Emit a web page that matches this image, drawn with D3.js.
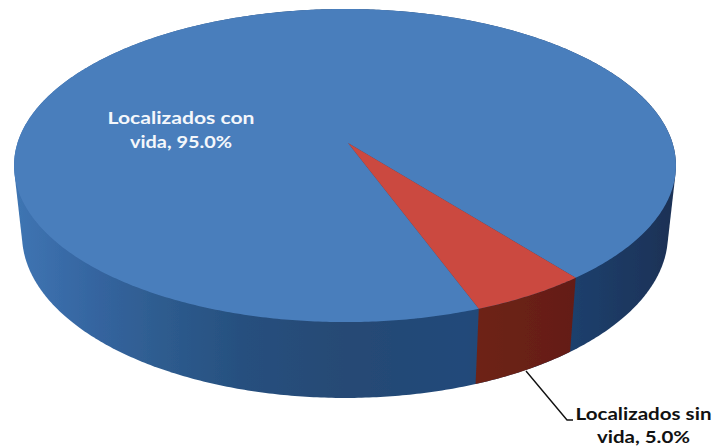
<!DOCTYPE html>
<html>
<head>
<meta charset="utf-8">
<script src="https://cdn.jsdelivr.net/npm/d3@7"></script>
<style>
html, body { margin: 0; padding: 0; background: #fff; }
svg { display: block; }
text { font-family: "Lato", "Noto Sans", sans-serif; font-weight: 700; }
</style>
</head>
<body>
<div id="chart"></div>
<script>
// datos
var categories = ["Localizados con vida", "Localizados sin vida"];
var values = [95.0, 5.0];
var topColors = ["#4a7ebc", "#cb4a3f"];
var labelColors = ["#f4f7fb", "#111111"];

var width = 712, height = 446;

// disco superior e inferior, con perspectiva (k)
var topDisc = { ax: 345, ay: 143, A: 327.5, B: 153.3, k: 0.144 };
var bottomDisc = { ax: 345, ay: 211.5, A: 319.6, B: 159.6, k: 0.144 };
var apexShift = 3;

var svg = d3.select("#chart").append("svg")
	.attr("width", width)
	.attr("height", height);

var defs = svg.append("defs");
defs.append("filter").attr("id", "soft")
	.append("feGaussianBlur").attr("stdDeviation", 0.6);

// gradiente lateral azul
var sideBlue = defs.append("linearGradient")
	.attr("id", "sideBlue")
	.attr("gradientUnits", "userSpaceOnUse")
	.attr("x1", 14).attr("x2", 676).attr("y1", 0).attr("y2", 0);
[[0, "#3f75b3"], [0.12, "#3565a0"], [0.22, "#2e5c8f"], [0.35, "#264f7e"],
 [0.5, "#264a74"], [0.68, "#214a7a"], [0.85, "#1d3f6c"], [1, "#1a3155"]].forEach(function(s) {
	sideBlue.append("stop").attr("offset", s[0]).attr("stop-color", s[1]);
});
var sideRed = defs.append("linearGradient")
	.attr("id", "sideRed")
	.attr("gradientUnits", "userSpaceOnUse")
	.attr("x1", 475).attr("x2", 575).attr("y1", 0).attr("y2", 0);
sideRed.append("stop").attr("offset", 0).attr("stop-color", "#6e2318");
sideRed.append("stop").attr("offset", 1).attr("stop-color", "#641d14");

var startAngle = 159.3 * Math.PI / 180;
var pie = d3.pie().sort(null)
	.startAngle(startAngle)
	.endAngle(startAngle + 2 * Math.PI);
var slices = pie(values);

function project(disc, angle) {
	// angulo en sentido horario desde arriba, igual que d3.pie
	var u = Math.sin(angle), v = Math.cos(angle);
	var w = 1 + disc.k * v;
	return [disc.ax + disc.A * u / w, disc.ay - disc.B * v / w];
}

function sweep(a0, a1) {
	var n = Math.max(2, Math.ceil((a1 - a0) / 0.01)), out = [];
	for (var i = 0; i <= n; i++) out.push(a0 + (a1 - a0) * i / n);
	return out;
}

var line = d3.line();
var plot = svg.append("g").attr("filter", "url(#soft)");

// lateral: casco de los dos discos, asi no queda muesca a los lados
var rim = sweep(0, 2 * Math.PI);
var hull = d3.polygonHull(rim.map(function(a) { return project(topDisc, a); })
	.concat(rim.map(function(a) { return project(bottomDisc, a); })));
plot.append("path")
	.attr("d", line(hull) + "Z")
	.attr("fill", "url(#sideBlue)");

// lateral de la rebanada roja
var angles = sweep(slices[1].startAngle, slices[1].endAngle);
var band = angles.map(function(a) { return project(topDisc, a); })
	.concat(angles.slice().reverse().map(function(a) { return project(bottomDisc, a); }));
plot.append("path")
	.attr("d", line(band) + "Z")
	.attr("fill", "url(#sideRed)");

// cara superior
slices.forEach(function(d, i) {
	var pts = [[topDisc.ax + apexShift, topDisc.ay]]
		.concat(sweep(d.startAngle, d.endAngle).map(function(a) { return project(topDisc, a); }));
	plot.append("path")
		.attr("d", line(pts) + "Z")
		.attr("fill", topColors[i]);
});

// etiquetas
var fmt = d3.format(".1f");
function labelLines(i) {
	var words = categories[i].split(" ");
	var last = words.pop();
	return [words.join(" "), last + ", " + fmt(values[i]) + "%"];
}
var labelPos = [[181, 124, 23.5], [643.5, 420, 23]];
var labelWidths = [[147, 102], [136, 93]];

categories.forEach(function(c, i) {
	labelLines(i).forEach(function(t, j) {
		svg.append("text")
			.attr("x", labelPos[i][0])
			.attr("y", labelPos[i][1] + j * labelPos[i][2])
			.attr("text-anchor", "middle")
			.attr("font-size", 17.5)
			.attr("fill", labelColors[i])
			.attr("textLength", labelWidths[i][j])
			.attr("lengthAdjust", "spacingAndGlyphs")
			.text(t);
	});
});

// linea guia
svg.append("path")
	.attr("d", line([[526, 371], [567, 420], [573, 420]]))
	.attr("fill", "none")
	.attr("stroke", "#111")
	.attr("stroke-width", 1.4);
</script>
</body>
</html>
